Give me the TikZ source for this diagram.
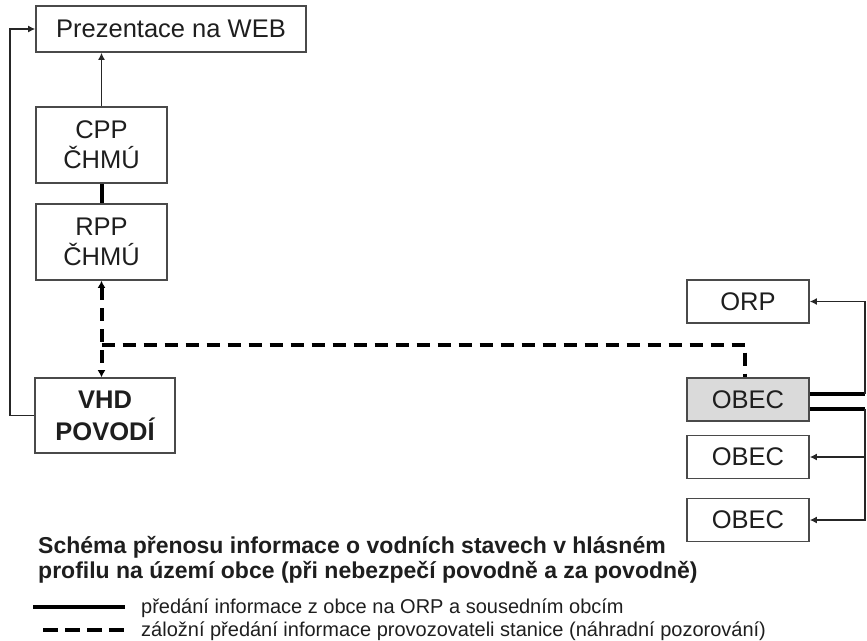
\documentclass[tikz,border=0pt]{standalone}
\usepackage{fontspec}
\setmainfont{Liberation Sans}
\usetikzlibrary{arrows.meta}
\definecolor{boxline}{HTML}{4A4A4A}
\definecolor{txt}{HTML}{1E1E1E}
\definecolor{shade}{HTML}{DADADA}
\tikzset{
  box/.style={draw=boxline,line width=1.6pt,rectangle,inner sep=0pt,text=txt,align=center,
    font=\fontsize{25.5}{30}\selectfont},
  thinline/.style={line width=1.8pt,draw=black!85},
  thickline/.style={line width=4pt,draw=black},
  dashline/.style={line width=4pt,draw=black,dash pattern=on 13pt off 8pt},
  tip/.style={-{Latex[length=7pt,width=7pt]}},
  legtext/.style={anchor=base west,inner sep=0pt,text=txt,font=\fontsize{20}{22}\selectfont},
  titletext/.style={anchor=base west,inner sep=0pt,text=txt,font=\fontsize{23}{25}\selectfont\bfseries},
}
\begin{document}
\begin{tikzpicture}[x=1pt,y=-1pt]
\useasboundingbox (0,0) rectangle (867,640);
% boxes
\node[box,minimum width=270pt,minimum height=46pt] (web) at (171,29) {Prezentace na WEB};
\node[box,minimum width=131pt,minimum height=76pt] (cpp) at (101.5,145) {CPP\\ČHMÚ};
\node[box,minimum width=131pt,minimum height=76pt] (rpp) at (101.5,242) {RPP\\ČHMÚ};
\node[box,minimum width=140pt,minimum height=75pt,font=\fontsize{25.5}{32}\selectfont\bfseries] (vhd) at (105,415.5) {VHD\\POVODÍ};
\node[box,minimum width=122pt,minimum height=43pt] (orp) at (748,301.5) {ORP};
\node[box,fill=shade,minimum width=122pt,minimum height=43pt] (obec1) at (748,399.5) {OBEC};
\node[box,minimum width=122pt,minimum height=43pt] (obec2) at (748,457) {OBEC};
\node[box,minimum width=122pt,minimum height=43pt] (obec3) at (748,520) {OBEC};
% left column connectors
\draw[thinline,tip] (cpp.north) -- (cpp.north |- web.south);
\draw[thickline] (cpp.south) -- (rpp.north);
\draw[thinline,tip] (vhd.west) -- ++(-24,0) |- (web.west);
% dashed backup connection
\coordinate (dcorner) at (101.5,345);
\coordinate (dturn) at (745,345);
\draw[dashline,{Latex[length=7pt,width=8pt]}-{Latex[length=7pt,width=8pt]}] (rpp.south) -- (rpp.south |- vhd.north);
\draw[dashline] (dcorner) -- (dturn) -- (dturn |- obec1.north);
% right side connections
\coordinate (r1) at (865,394);
\coordinate (r2) at (865,409);
\draw[thickline] (obec1.east |- r1) -- (r1);
\draw[thickline] (obec1.east |- r2) -- (r2);
\draw[thinline,tip] (r1) |- (orp.east);
\draw[thinline,tip] (r2) |- (obec2.east);
\draw[thinline,tip] (r2) |- (obec3.east);
% title
\node[titletext] (title1) at (38,553) {Schéma přenosu informace o vodních stavech v hlásném};
\node[titletext] (title2) at (38,578) {profilu na území obce (při nebezpečí povodně a za povodně)};
% legend
\coordinate (l1a) at (33,607);
\coordinate (l1b) at (125,607);
\coordinate (l2a) at (43,630);
\coordinate (l2b) at (125,630);
\draw[thickline] (l1a) -- (l1b);
\draw[line width=4pt,dash pattern=on 15pt off 7pt] (l2a) -- (l2b);
\node[legtext] (leg1) at (141,613) {předání informace z obce na ORP a sousedním obcím};
\node[legtext] (leg2) at (141,636) {záložní předání informace provozovateli stanice (náhradní pozorování)};
\end{tikzpicture}
\end{document}
